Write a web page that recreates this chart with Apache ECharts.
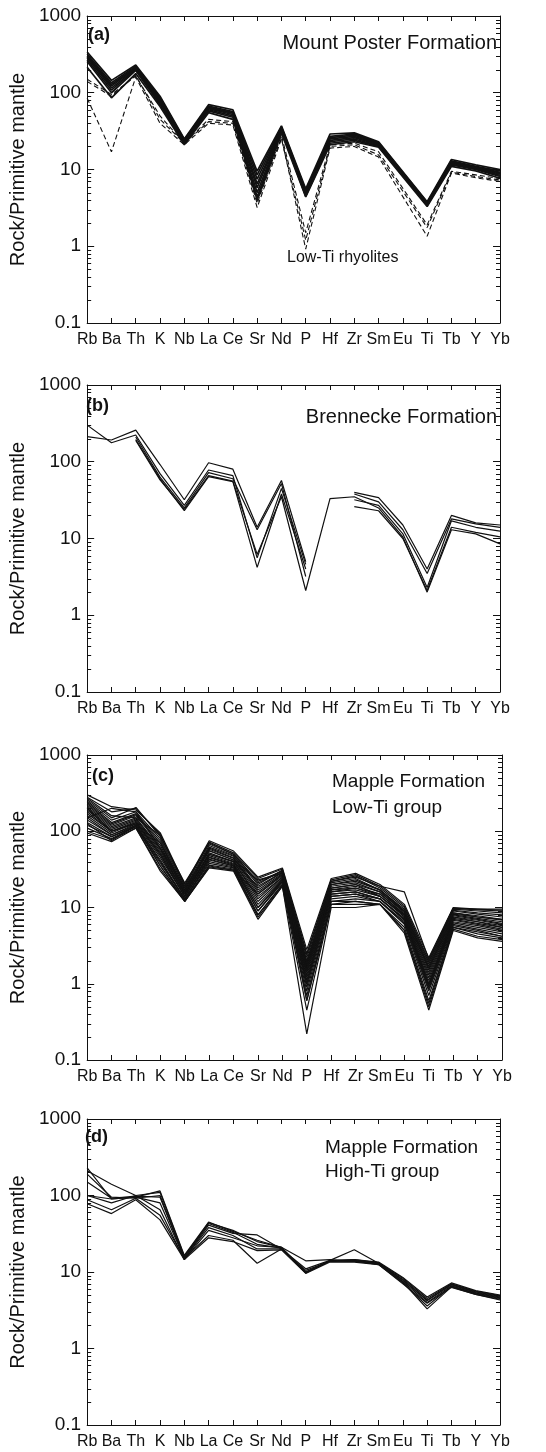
<!DOCTYPE html>
<html>
<head>
<meta charset="utf-8">
<script src="https://cdn.jsdelivr.net/npm/echarts@6/dist/echarts.min.js"></script>
<style>
  html, body { margin: 0; padding: 0; background: #fff; }
  #chart { width: 546px; height: 1452px; }
</style>
</head>
<body>
<div id="chart"></div>
<script>
// Trace elements, primitive-mantle normalised (spider diagram order)
const elements = ['Rb','Ba','Th','K','Nb','La','Ce','Sr','Nd','P','Hf','Zr','Sm','Eu','Ti','Tb','Y','Yb'];

// Y-axis decades and the in-between multipliers for minor ticks
const decades = [0.1, 1, 10, 100];
const minorMultipliers = [2, 3, 4, 5, 6, 7, 8, 9];

// (a) Mount Poster Formation - Eu not analysed
const mountPosterSolid = [
  [340, 145, 230, 90, 25, 70, 60, 9.5, 37, 5.6, 29, 30, 23, null, 3.8, 13.5, 11.5, 10],
  [320, 135, 222, 86, 24.5, 67, 57, 8.5, 36, 5.3, 27, 29, 22.5, null, 3.7, 13, 11, 9.6],
  [305, 128, 215, 82, 24, 65, 55, 7.5, 35, 5.1, 26, 28, 22, null, 3.65, 12.7, 10.8, 9.2],
  [295, 122, 210, 80, 23.5, 63, 54, 6.5, 34.5, 5.0, 25, 27, 21.5, null, 3.6, 12.4, 10.6, 9.0],
  [285, 115, 205, 76, 23, 62, 52, 5.8, 34, 4.8, 24, 26, 21, null, 3.5, 12.1, 10.4, 8.7],
  [270, 108, 200, 73, 22.5, 60, 50, 5.0, 33, 4.6, 23, 25, 20.5, null, 3.45, 11.8, 10.2, 8.4],
  [255, 100, 195, 70, 22, 58, 48, 4.4, 32, 4.5, 22, 24, 20, null, 3.4, 11.5, 10, 8.1],
  [215, 86, 178, 66, 21, 55, 45, 4.0, 30, 4.4, 21, 23, 19.5, null, 3.3, 11, 9.6, 7.7]
];
const mountPosterLowTi = [
  [150, 95, 165, 50, 22, 45, 42, 3.6, 28, 1.5, 21, 22, 17, null, 1.9, 9.5, 8.5, 7.6],
  [85, 17, 160, 40, 21, 40, 38, 3.2, 25, 1.2, 20, 21, 15.5, null, 1.75, 9.2, 8.1, 7.3],
  [140, 90, 170, 45, 22, 42, 40, 3.9, 26, 0.92, 19, 20, 14.5, null, 1.35, 9.0, 7.8, 7.0]
];

// (b) Brennecke Formation - gaps where an element was not determined
const brennecke = [
  [300, 177, 223, 70, 27, 78, 66, 5.6, 45, 4.6, null, 40, 34, 15, 4.0, 20, 16, 15],
  [212, 192, 258, 92, 32, 97, 80, 14, 57, 5.0, null, 38, 30, 13, 3.5, 18, 15.5, 14],
  [null, null, 210, 63, 25, 72, 60, 13, 52, 3.2, null, 32, 27, 11.5, 2.3, 17, 14, 12.5],
  [null, null, 195, 60, 23, 64, 55, 4.2, 38, 4.0, null, 26, 23, 10, 2.1, 14, 12, 10.5],
  [null, null, 190, 58, 24, 66, 56, 6.2, 35, 2.1, 33, 35, 25, 10.5, 2.0, 13, 11.5, 8.5]
];

// (c) Mapple Formation, low-Ti group
const mappleLowTi = [
  [300, 210, 190, 95, 20, 75, 55, 25, 33, 2.8, 24, 28, 20, 11, 2.2, 10, 9.5, 9.5],
  [280, 180, 200, 90, 19, 72, 52, 24, 32, 2.5, 23, 27, 19, 10.5, 2.0, 9.8, 9.3, 9.0],
  [260, 150, 205, 85, 21, 68, 50, 22, 30, 2.2, 22, 26, 18, 10, 1.9, 9.5, 9.0, 8.5],
  [250, 140, 180, 80, 18, 65, 48, 20, 31, 2.0, 21, 24, 17, 9.5, 1.8, 9.2, 8.5, 8.0],
  [240, 130, 170, 75, 17, 62, 47, 18, 29, 1.9, 20, 22, 17, 9.0, 1.7, 9.0, 8.2, 7.5],
  [230, 125, 165, 70, 17, 60, 45, 17, 28, 1.8, 19, 21, 16, 8.8, 1.6, 8.5, 7.8, 7.0],
  [220, 120, 160, 65, 16, 58, 44, 16, 27, 1.7, 18, 20, 16, 8.5, 1.5, 8.2, 7.5, 6.8],
  [210, 115, 150, 60, 16, 55, 42, 15, 26, 1.6, 17, 19, 15, 8.2, 1.4, 8.0, 7.2, 6.5],
  [200, 110, 145, 58, 15, 52, 40, 14, 25, 1.5, 17, 18, 15, 8.0, 1.3, 7.8, 7.0, 6.2],
  [190, 105, 140, 55, 15, 50, 40, 13, 25, 1.4, 16, 18, 14, 7.8, 1.2, 7.5, 6.8, 6.0],
  [180, 100, 135, 52, 15, 48, 38, 12, 24, 1.3, 16, 17, 14, 7.5, 1.1, 7.2, 6.5, 5.8],
  [170, 100, 130, 50, 14, 46, 37, 11, 23, 1.2, 15, 16, 13, 7.2, 1.0, 7.0, 6.2, 5.5],
  [160, 95, 130, 48, 14, 45, 36, 10, 23, 1.1, 15, 16, 13, 7.0, 0.95, 6.8, 6.0, 5.2],
  [150, 90, 125, 45, 14, 43, 35, 10, 22, 1.0, 14, 15, 13, 6.8, 0.9, 6.5, 5.8, 5.0],
  [140, 90, 120, 42, 13, 42, 35, 9, 22, 0.9, 14, 15, 12, 6.5, 0.85, 6.3, 5.5, 4.8],
  [130, 85, 120, 40, 13, 40, 34, 9, 21, 0.8, 13, 14, 12, 6.2, 0.8, 6.0, 5.2, 4.5],
  [120, 85, 115, 38, 13, 38, 33, 8, 20, 0.7, 12, 13, 12, 6.0, 0.7, 5.8, 5.0, 4.2],
  [110, 80, 115, 35, 12, 36, 32, 8, 20, 0.6, 12, 12, 11, 5.5, 0.6, 5.5, 4.5, 4.0],
  [100, 78, 110, 32, 12, 34, 31, 7.5, 19, 0.45, 11, 11, 11, 5.0, 0.5, 5.2, 4.2, 3.8],
  [95, 73, 110, 30, 12, 33, 30, 7, 19, 0.22, 10, 10, 11, 4.6, 0.45, 5.0, 4.0, 3.6],
  [270, 160, 150, 88, 19, 70, 50, 21, 30, 2.4, 22, 25, 19, 16, 2.1, 9.7, 9.5, 9.2],
  [150, 200, 180, 60, 18, 56, 42, 23, 28, 1.5, 20, 23, 17, 9, 1.6, 8.5, 7.5, 7.0],
  [125, 75, 120, 35, 12.5, 35, 31, 15, 27, 0.6, 11, 12, 11, 5, 0.55, 5.5, 4.8, 4.2],
  [200, 100, 125, 70, 16, 50, 40, 19, 29, 1.0, 18, 20, 14, 8, 1.0, 7.5, 6.5, 5.5]
];

// (d) Mapple Formation, high-Ti group
const mappleHighTi = [
  [230, 90, 95, 115, 16.5, 45, 34, 26, 21, 10, 14, 14.5, 13.5, 8.5, 4.7, 7.2, 5.7, 5.0],
  [210, 140, 100, 110, 16, 44, 35, 25, 21, 9.8, 14, 14.5, 13.2, 8.3, 4.5, 7.0, 5.6, 4.9],
  [190, 95, 92, 100, 15.5, 43, 33, 23, 20.5, 9.7, 14, 14.2, 13, 8.0, 4.3, 6.9, 5.5, 4.8],
  [150, 92, 98, 95, 15, 41, 32, 30.5, 20, 10.5, 13.8, 14, 13, 7.8, 4.2, 6.8, 5.4, 4.7],
  [100, 90, 95, 80, 15, 38, 30, 20, 20, 11, 14.2, 19.5, 13, 7.5, 4.0, 6.6, 5.3, 4.6],
  [100, 80, 100, 65, 14.5, 35, 28, 22, 21, 14, 14.5, 14, 12.5, 7.2, 3.6, 6.5, 5.2, 4.5],
  [88, 65, 92, 55, 15, 30, 26, 13, 20, 10, 14, 13.8, 12.8, 7.4, 3.3, 6.4, 5.1, 4.4],
  [78, 58, 88, 48, 14.5, 28, 25, 19, 19.5, 9.6, 13.5, 13.5, 12.5, 7.0, 3.9, 6.3, 5.1, 4.3]
];

const FONT = '"Liberation Sans", Arial, Helvetica, sans-serif';
const INK = '#111';

const minorTickValues = [];
decades.forEach(d => minorMultipliers.forEach(m => minorTickValues.push(+(d * m).toPrecision(3))));

const grids = [], xAxes = [], yAxes = [], series = [], graphics = [];

function addPanel(rect, nameGap, groups, connectNulls) {
  const gi = grids.length;
  grids.push({ left: rect.left, top: rect.top, width: rect.width, height: rect.height, containLabel: false });

  const xBottom = xAxes.length;
  xAxes.push({
    type: 'category', gridIndex: gi, data: elements, boundaryGap: false, position: 'bottom',
    axisLine: { show: true, lineStyle: { color: INK, width: 1 } },
    axisTick: { show: true, inside: true, length: 5, interval: 0, lineStyle: { color: INK, width: 1 } },
    axisLabel: { interval: 0, fontSize: 16, color: INK, margin: 9, fontFamily: FONT },
    splitLine: { show: false }
  });
  xAxes.push({
    type: 'category', gridIndex: gi, data: elements, boundaryGap: false, position: 'top',
    axisLine: { show: true, lineStyle: { color: INK, width: 1 } },
    axisTick: { show: true, inside: true, length: 5, interval: 0, lineStyle: { color: INK, width: 1 } },
    axisLabel: { show: false }, splitLine: { show: false }
  });

  const yLeft = yAxes.length;
  yAxes.push({
    type: 'log', logBase: 10, gridIndex: gi, min: 0.1, max: 1000, position: 'left',
    name: 'Rock/Primitive mantle', nameLocation: 'middle', nameGap: nameGap,
    nameTextStyle: { fontSize: 20, color: INK, fontFamily: FONT },
    axisLine: { show: true, lineStyle: { color: INK, width: 1 } },
    axisTick: { show: true, inside: true, length: 7, lineStyle: { color: INK, width: 1 } },
    axisLabel: { fontSize: 19, color: INK, margin: 6, fontFamily: FONT,
      formatter: v => String(+(+v).toPrecision(3)) },
    splitLine: { show: false }
  });
  yAxes.push({
    type: 'log', logBase: 10, gridIndex: gi, min: 0.1, max: 1000, position: 'right',
    axisLine: { show: true, lineStyle: { color: INK, width: 1 } },
    axisTick: { show: true, inside: true, length: 7, lineStyle: { color: INK, width: 1 } },
    axisLabel: { show: false }, splitLine: { show: false }
  });

  groups.forEach(g => {
    g.rows.forEach(row => {
      series.push({
        type: 'line', xAxisIndex: xBottom, yAxisIndex: yLeft, data: row,
        symbol: 'none', connectNulls: connectNulls, silent: true, z: 2,
        lineStyle: { color: INK, width: g.width || 1, type: g.dash ? [5, 3] : 'solid' }
      });
    });
  });

  // minor log ticks (2..9 of every decade) on both vertical sides
  series.push({
    type: 'custom', coordinateSystem: 'cartesian2d', xAxisIndex: xBottom, yAxisIndex: yLeft,
    silent: true, z: 5, clip: false,
    data: minorTickValues.map(v => [0, v]),
    encode: { x: 0, y: 1 },
    renderItem: function (params, api) {
      const cs = params.coordSys;
      const y = Math.round(api.coord([0, api.value(1)])[1]) + 0.5;
      return {
        type: 'group',
        children: [
          { type: 'line', shape: { x1: cs.x, y1: y, x2: cs.x + 4, y2: y },
            style: { stroke: INK, lineWidth: 1 } },
          { type: 'line', shape: { x1: cs.x + cs.width, y1: y, x2: cs.x + cs.width - 4, y2: y },
            style: { stroke: INK, lineWidth: 1 } }
        ]
      };
    }
  });
}

addPanel({ left: 78, top: 16, width: 422, height: 307 }, 50,
  [{ rows: mountPosterSolid, width: 1.7 }, { rows: mountPosterLowTi, dash: true, width: 1.1 }], true);
addPanel({ left: 77, top: 385, width: 423, height: 307 }, 49,
  [{ rows: brennecke, width: 1.2 }], false);
addPanel({ left: 83, top: 755, width: 419, height: 305 }, 55,
  [{ rows: mappleLowTi, width: 1.2 }], true);
addPanel({ left: 80, top: 1119, width: 420, height: 306 }, 52,
  [{ rows: mappleHighTi, width: 1.2 }], true);

function txt(text, x, y, opts) {
  graphics.push({
    type: 'text', x: x, y: y, z: 10,
    style: Object.assign({ text: text, fill: INK, font: '19px ' + FONT,
      align: 'left', verticalAlign: 'middle' }, opts || {})
  });
}

// panel letters
txt('(a)', 88, 35, { font: 'bold 18px ' + FONT });
txt('(b)', 86, 406, { font: 'bold 18px ' + FONT });
txt('(c)', 92, 776, { font: 'bold 18px ' + FONT });
txt('(d)', 85, 1137, { font: 'bold 18px ' + FONT });

// unit names
txt('Mount Poster Formation', 497, 43, { align: 'right', font: '20px ' + FONT });
txt('Low-Ti rhyolites', 287, 258, { font: '16px ' + FONT });
txt('Brennecke Formation', 497, 417, { align: 'right', font: '20px ' + FONT });
txt('Mapple Formation', 332, 782);
txt('Low-Ti group', 332, 808);
txt('Mapple Formation', 325, 1148);
txt('High-Ti group', 325, 1172);

const chart = echarts.init(document.getElementById('chart'), null, { renderer: 'canvas' });
chart.setOption({
  animation: false,
  backgroundColor: '#fff',
  textStyle: { fontFamily: FONT },
  grid: grids,
  xAxis: xAxes,
  yAxis: yAxes,
  series: series,
  graphic: graphics
});
</script>
</body>
</html>
